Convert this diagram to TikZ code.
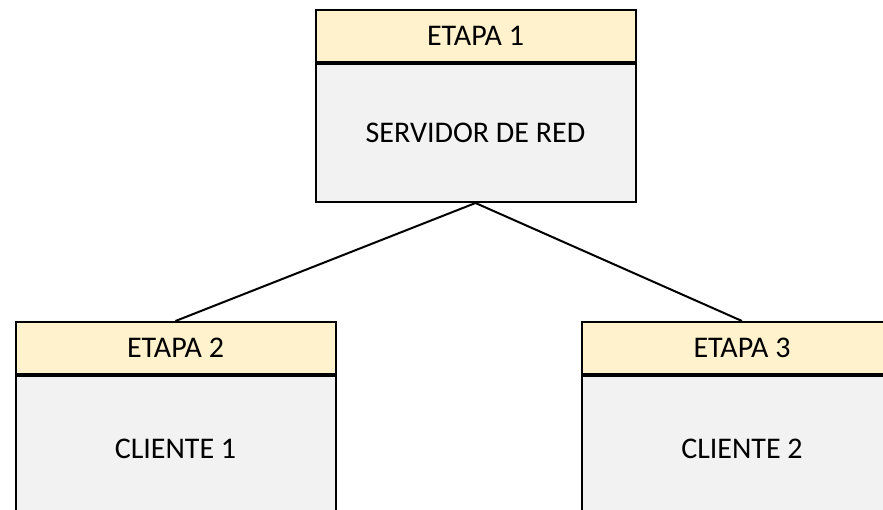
\documentclass[tikz,border=0pt]{standalone}
\usepackage{fontspec}
\setmainfont{Carlito}
\usepackage{tikz}
\usepackage{xcolor}
\usetikzlibrary{positioning}

\definecolor{headfill}{HTML}{FFF2CC}
\definecolor{bodyfill}{HTML}{F2F2F2}

\tikzset{
  boxtext/.style={font=\fontsize{30}{34}\selectfont},
  head/.style={draw, line width=2pt, fill=headfill, minimum width=320pt,
    minimum height=52pt, inner sep=0pt, boxtext},
  body/.style={draw, line width=2pt, fill=bodyfill, minimum width=320pt,
    inner sep=0pt, boxtext},
  link/.style={line width=2pt}
}

\begin{document}
\begin{tikzpicture}[x=1pt,y=-1pt]
  \clip (0,0) rectangle (883,509);
  % servidor
  \node[head] (et1) at (475.5,36) {ETAPA 1};
  \node[body, minimum height=138pt, below=0pt of et1] (srv) {SERVIDOR DE RED};
  % cliente 1
  \node[head] (et2) at (175.5,348) {ETAPA 2};
  \node[body, minimum height=146pt, below=0pt of et2] (cl1) {CLIENTE 1};
  % cliente 2
  \node[head] (et3) at (742,348) {ETAPA 3};
  \node[body, minimum height=146pt, below=0pt of et3] (cl2) {CLIENTE 2};
  % enlaces
  \draw[link] (srv.south) -- (et2.north);
  \draw[link] (srv.south) -- (et3.north);
\end{tikzpicture}
\end{document}
